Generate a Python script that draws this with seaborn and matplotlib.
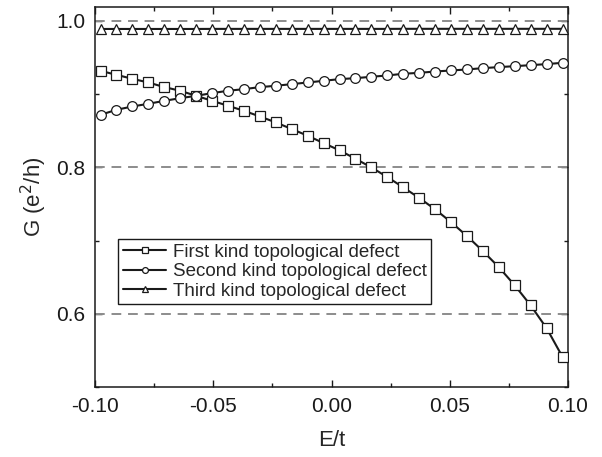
"""
Conductance G vs E/t for three kinds of topological defect
"""
import matplotlib
matplotlib.use('Agg')
import matplotlib.pyplot as plt
from matplotlib.ticker import MultipleLocator, FormatStrFormatter
import pandas as pd
import seaborn as sns

sns.set_style('ticks')
plt.rcParams['font.family'] = ['Liberation Sans', 'DejaVu Sans']

# ---------------------------------------------------------------------------
# data
# ---------------------------------------------------------------------------
energy = [-0.0977, -0.0910, -0.0842, -0.0775, -0.0707, -0.0640, -0.0573, -0.0505,
          -0.0438, -0.0371, -0.0303, -0.0236, -0.0168, -0.0101, -0.0034, 0.0034,
          0.0101, 0.0168, 0.0236, 0.0303, 0.0371, 0.0438, 0.0505, 0.0573,
          0.0640, 0.0707, 0.0775, 0.0842, 0.0910, 0.0977]

g_first = [0.9318, 0.9264, 0.9209, 0.9159, 0.9096, 0.9046, 0.8977, 0.8909,
           0.8841, 0.8773, 0.8695, 0.8614, 0.8523, 0.8432, 0.8332, 0.8232,
           0.8118, 0.8000, 0.7868, 0.7727, 0.7582, 0.7427, 0.7253, 0.7062,
           0.6857, 0.6639, 0.6389, 0.6116, 0.5802, 0.5411]

g_second = [0.8718, 0.8786, 0.8832, 0.8868, 0.8909, 0.8945, 0.8977, 0.9014,
            0.9046, 0.9068, 0.9096, 0.9114, 0.9137, 0.9159, 0.9182, 0.9205,
            0.9218, 0.9237, 0.9255, 0.9278, 0.9291, 0.9309, 0.9323, 0.9337,
            0.9355, 0.9369, 0.9382, 0.9396, 0.9410, 0.9428]

g_third = [0.9890, 0.9890, 0.9890, 0.9890, 0.9890, 0.9890, 0.9890, 0.9891,
           0.9891, 0.9891, 0.9891, 0.9891, 0.9891, 0.9891, 0.9891, 0.9891,
           0.9891, 0.9891, 0.9891, 0.9892, 0.9892, 0.9892, 0.9892, 0.9892,
           0.9892, 0.9892, 0.9892, 0.9892, 0.9892, 0.9892]

labels = ['First kind topological defect',
          'Second kind topological defect',
          'Third kind topological defect']
markers = ['s', 'o', '^']
dashed_levels = [0.6, 0.8, 1.0]

# ---------------------------------------------------------------------------
# plot
# ---------------------------------------------------------------------------
fig = plt.figure(figsize=(6.02, 4.57), dpi=100)
ax = fig.add_axes([0.158, 0.153, 0.7855, 0.8317])

for lvl in dashed_levels:
    ax.axhline(lvl, color='#8c8c8c', lw=1.4, ls=(0, (5, 3.5)), zorder=1)

for g, lab, m in zip([g_first, g_second, g_third], labels, markers):
    df = pd.DataFrame({'E': energy, 'G': g})
    sns.lineplot(data=df, x='E', y='G', ax=ax, color='#1a1a1a', lw=1.5,
                 marker=m, markersize=7 if m != '^' else 7.5,
                 markerfacecolor='white', markeredgecolor='#1a1a1a',
                 markeredgewidth=0.9, label=lab, zorder=3)

ax.set_xlim(-0.1, 0.1)
ax.set_ylim(0.5, 1.019)
ax.xaxis.set_major_locator(MultipleLocator(0.05))
ax.xaxis.set_minor_locator(MultipleLocator(0.025))
ax.yaxis.set_major_locator(MultipleLocator(0.2))
ax.yaxis.set_minor_locator(MultipleLocator(0.1))
ax.xaxis.set_major_formatter(FormatStrFormatter('%.2f'))
ax.yaxis.set_major_formatter(FormatStrFormatter('%.1f'))

ax.tick_params(which='both', direction='in', top=True, right=True,
               colors='#1a1a1a', labelsize=15, width=1.0)
ax.tick_params(which='major', length=5, pad=7)
ax.tick_params(which='minor', length=3)
for s in ax.spines.values():
    s.set_linewidth(1.1)
    s.set_color('#1a1a1a')

ax.set_xlabel('E/t', fontsize=16, labelpad=10)
ax.set_ylabel('G (e$^2$/h)', fontsize=16, labelpad=5)

leg = ax.legend(loc='lower left', bbox_to_anchor=(0.049, 0.218), borderaxespad=0,
                fontsize=13.5, markerscale=0.6, fancybox=False, framealpha=1,
                edgecolor='#1a1a1a', handlelength=2.3, handletextpad=0.35,
                labelspacing=0.12, borderpad=0.25)
leg.get_frame().set_linewidth(1.0)

fig.savefig('out.png', dpi=100)
plt.close(fig)
